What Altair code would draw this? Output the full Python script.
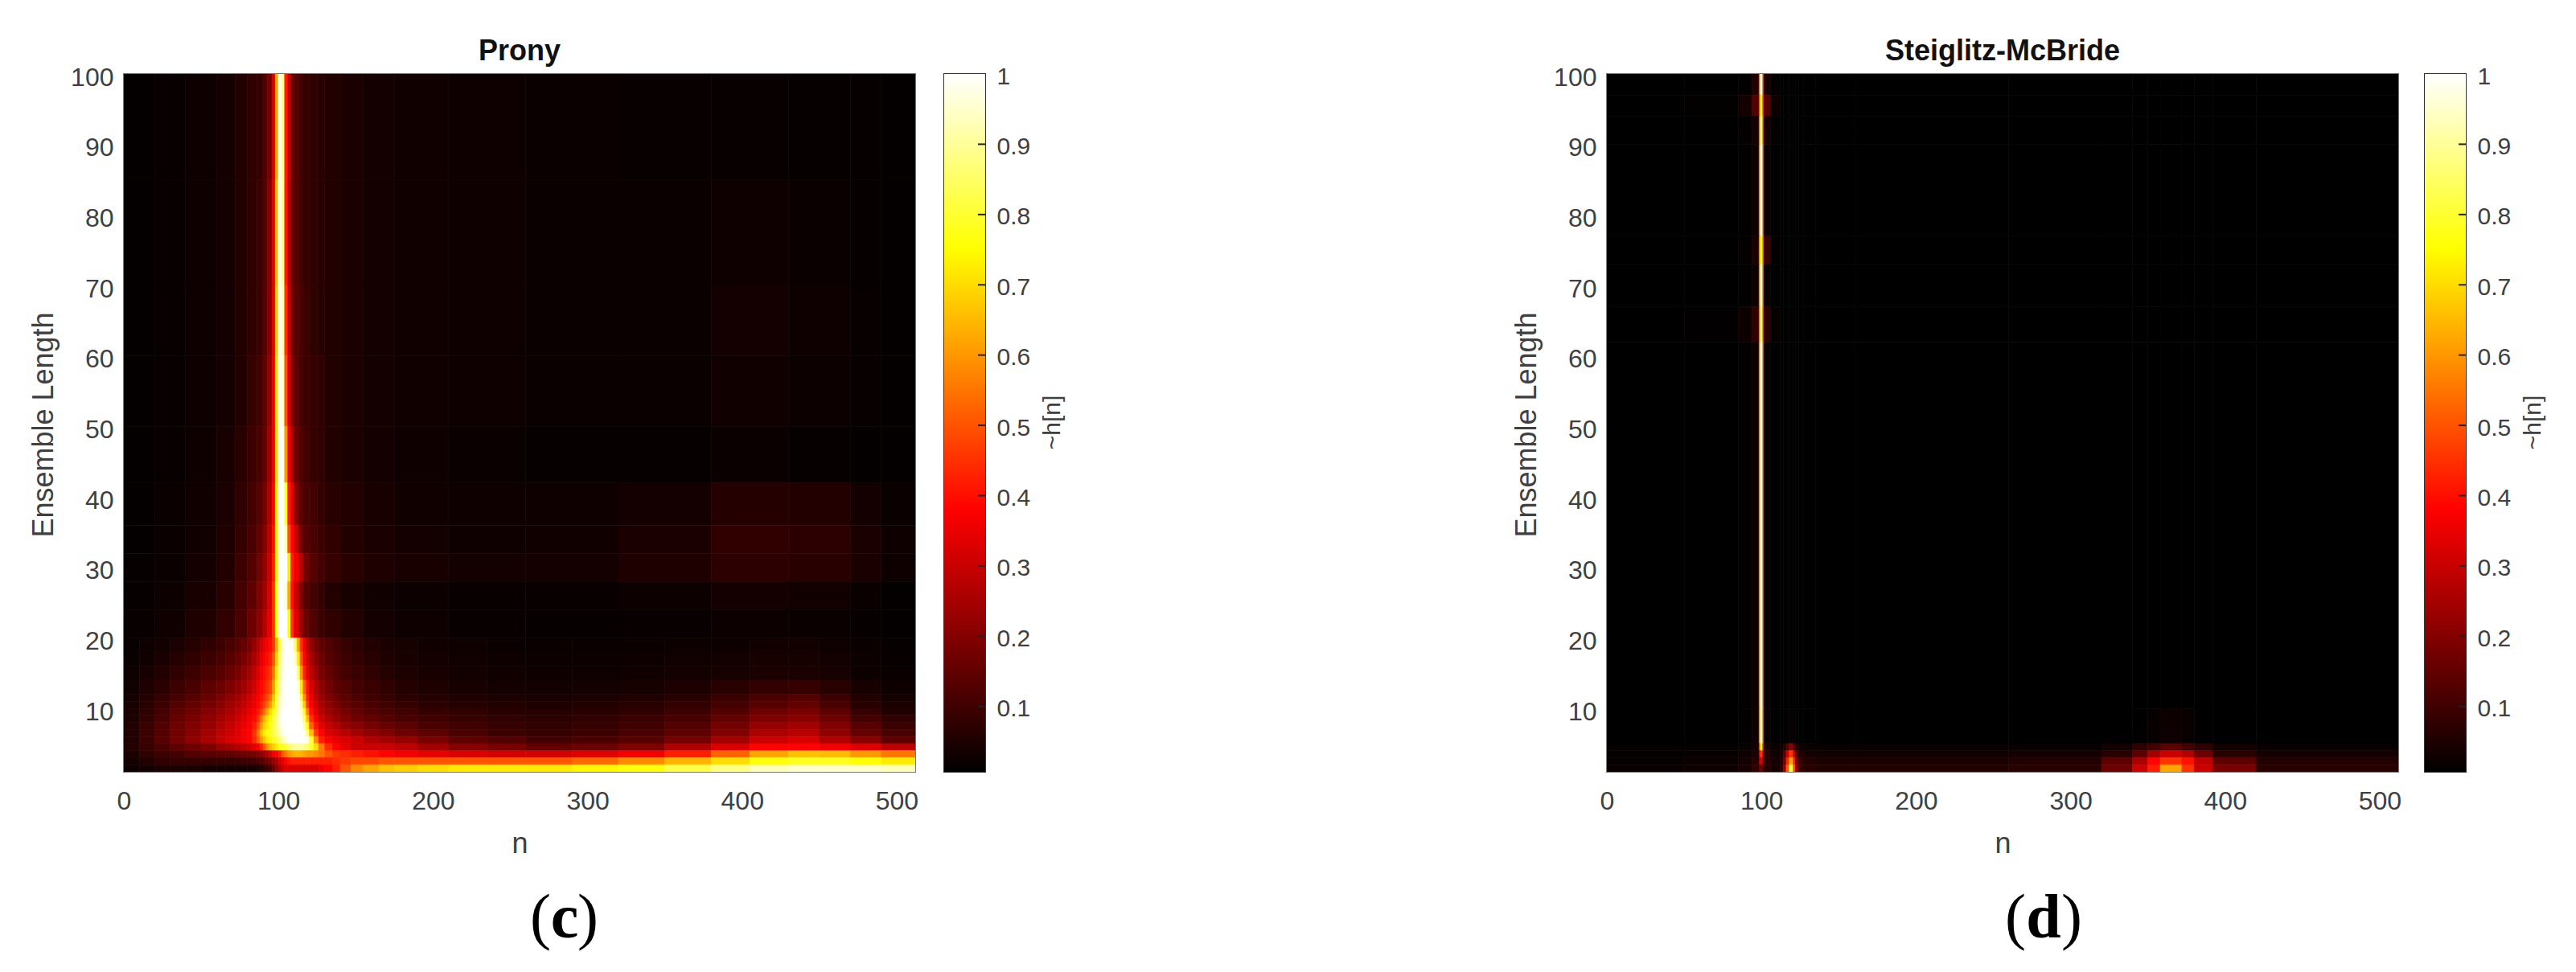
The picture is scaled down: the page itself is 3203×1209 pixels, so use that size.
import altair as alt
import pandas as pd

# cell edges: the upper part of Prony is read on a coarser grid than the bright lower part
prony_n = [0, 20, 40, 60, 72, 80, 86, 90, 93, 96, 98, 100, 102, 104, 106, 108, 110, 113, 116, 120,
           125, 130, 140, 155, 175, 210, 260, 320, 380, 430, 470, 490, 512]
prony_len = [100, 85, 70, 60, 50, 42, 36, 32, 28, 24, 20]
prony_vals = [
    [.008, .012, .02, .03, .05, .07, .08, .12, .18, .32, .62, .98, .9, .42, .3, .16, .13, .1, .08, .07, .06, .05, .04, .03, .025, .02, .015, .012, .012, .01, .01, .008],
    [.008, .012, .02, .03, .05, .07, .09, .12, .2, .34, .66, .98, .9, .42, .28, .16, .13, .1, .08, .07, .06, .05, .04, .03, .025, .02, .016, .014, .02, .014, .01, .008],
    [.008, .012, .02, .03, .05, .07, .09, .13, .2, .34, .68, 1, .92, .45, .3, .17, .13, .11, .09, .07, .06, .05, .04, .03, .025, .02, .016, .016, .03, .02, .012, .008],
    [.008, .012, .02, .03, .05, .08, .1, .14, .22, .36, .7, 1, .95, .5, .32, .2, .14, .11, .09, .08, .07, .05, .04, .03, .025, .02, .016, .016, .025, .018, .012, .008],
    [.008, .012, .02, .035, .06, .09, .11, .15, .24, .36, .7, 1, .98, .6, .36, .25, .16, .12, .1, .08, .07, .05, .04, .03, .02, .014, .01, .01, .014, .01, .008, .006],
    [.008, .014, .025, .04, .07, .1, .13, .18, .26, .38, .72, 1, 1, .8, .42, .34, .2, .14, .11, .1, .08, .06, .05, .035, .025, .02, .02, .03, .055, .05, .03, .015],
    [.008, .014, .025, .045, .08, .11, .15, .2, .28, .4, .72, .98, 1, .92, .5, .38, .3, .18, .13, .11, .09, .07, .05, .04, .03, .022, .025, .04, .07, .065, .04, .02],
    [.01, .016, .03, .05, .09, .12, .17, .22, .3, .42, .72, .98, 1, 1, .72, .42, .36, .28, .17, .13, .1, .08, .06, .045, .035, .03, .03, .045, .065, .06, .04, .02],
    [.01, .018, .035, .06, .1, .14, .19, .24, .32, .45, .75, 1, 1, .95, .62, .4, .3, .2, .13, .1, .08, .05, .035, .025, .018, .012, .012, .018, .03, .025, .015, .008],
    [.012, .025, .045, .075, .11, .16, .21, .27, .34, .45, .75, 1, 1, 1, .75, .45, .34, .24, .16, .12, .09, .07, .05, .03, .02, .012, .01, .012, .018, .015, .01, .006],
]

prony_low_n = [0, 10, 20, 30, 40, 50, 60, 66, 72, 76, 80, 83, 86, 88, 90, 92, 94, 96, 98, 100, 102, 104, 106, 108, 110, 112,
               114, 116, 118, 120, 123, 126, 130, 135, 140, 147, 155, 165, 175, 190, 210, 235, 260, 290, 320, 350, 380, 405,
               430, 450, 470, 490, 512]
prony_low_len = [20, 18, 16, 14, 12, 11, 10, 9, 8, 7, 6, 5, 4, 3, 2, 1]
prony_low_vals = [
    [.012, .02, .03, .04, .055, .07, .09, .11, .13, .15, .18, .22, .26, .3, .34, .37, .39, .45, .62, .82,
     .95, 1, 1, 1, .85, .62, .44, .36, .28, .22, .17, .14, .12, .1, .08, .065, .05, .04, .032, .025,
     .02, .016, .014, .014, .016, .018, .022, .026, .026, .022, .016, .01],
    [.015, .025, .04, .055, .07, .09, .11, .13, .155, .18, .21, .25, .29, .33, .37, .39, .42, .5, .68, .85,
     .96, 1, 1, 1, .95, .72, .5, .38, .31, .25, .2, .16, .13, .11, .09, .075, .06, .045, .036, .03,
     .024, .02, .018, .018, .02, .024, .028, .032, .032, .026, .018, .012],
    [.02, .035, .05, .07, .09, .11, .13, .155, .18, .21, .24, .28, .32, .36, .39, .42, .45, .55, .72, .88,
     .97, 1, 1, 1, 1, .85, .6, .42, .34, .28, .23, .18, .15, .12, .1, .085, .07, .055, .042, .035,
     .028, .024, .022, .022, .024, .028, .034, .04, .04, .032, .022, .014],
    [.025, .045, .065, .09, .11, .135, .16, .185, .21, .24, .27, .31, .35, .38, .41, .44, .48, .6, .76, .9,
     .98, 1, 1, 1, 1, .95, .72, .52, .4, .32, .26, .21, .17, .14, .12, .1, .085, .07, .055, .045,
     .036, .03, .028, .03, .034, .042, .06, .075, .08, .06, .035, .02],
    [.03, .055, .08, .105, .13, .155, .185, .215, .24, .27, .3, .34, .37, .4, .44, .48, .54, .66, .8, .92,
     .98, 1, 1, 1, 1, 1, .82, .6, .42, .35, .28, .23, .19, .16, .135, .115, .095, .08, .065, .055,
     .045, .04, .036, .04, .048, .06, .085, .11, .125, .09, .05, .03],
    [.035, .06, .09, .12, .15, .175, .205, .235, .26, .29, .32, .35, .38, .42, .47, .52, .6, .7, .82, .93,
     .98, 1, 1, 1, 1, 1, .9, .68, .46, .37, .31, .25, .21, .18, .15, .13, .11, .095, .08, .065,
     .055, .05, .046, .05, .06, .075, .1, .13, .145, .11, .06, .04],
    [.04, .07, .1, .14, .165, .195, .225, .25, .28, .31, .34, .37, .41, .46, .54, .62, .7, .76, .85, .95,
     1, 1, 1, 1, 1, 1, .95, .78, .56, .4, .33, .27, .23, .2, .17, .145, .125, .11, .095, .08,
     .07, .06, .055, .06, .07, .09, .125, .16, .18, .14, .08, .05],
    [.04, .075, .11, .15, .18, .21, .24, .27, .3, .33, .36, .39, .45, .54, .64, .7, .74, .8, .88, .96,
     1, 1, 1, 1, 1, 1, .98, .85, .66, .45, .37, .3, .26, .22, .19, .165, .145, .125, .11, .095,
     .08, .07, .062, .07, .085, .105, .145, .185, .2, .16, .1, .07],
    [.05, .085, .12, .16, .19, .22, .26, .29, .32, .35, .37, .42, .5, .6, .68, .72, .76, .82, .88, .95,
     .99, 1, 1, 1, 1, 1, 1, .92, .76, .52, .41, .34, .29, .26, .22, .2, .175, .155, .135, .11,
     .095, .08, .07, .08, .095, .125, .17, .22, .24, .19, .13, .09],
    [.05, .09, .125, .165, .2, .24, .28, .3, .33, .36, .38, .45, .55, .66, .72, .76, .78, .82, .86, .92,
     .97, 1, 1, 1, 1, 1, 1, .98, .86, .66, .46, .38, .32, .3, .27, .24, .21, .19, .16, .135,
     .11, .09, .08, .09, .11, .14, .19, .25, .27, .21, .15, .11],
    [.05, .09, .13, .17, .21, .25, .29, .32, .34, .36, .38, .44, .52, .6, .66, .72, .74, .78, .82, .86,
     .92, .97, 1, 1, 1, 1, 1, 1, .98, .82, .58, .42, .37, .34, .32, .3, .26, .24, .22, .18,
     .14, .12, .1, .11, .13, .17, .24, .3, .32, .26, .2, .14],
    [.05, .08, .11, .14, .16, .18, .22, .24, .26, .28, .3, .33, .36, .42, .5, .58, .64, .68, .72, .76,
     .78, .8, .85, .88, .9, .9, .9, .88, .86, .8, .7, .56, .44, .38, .34, .3, .3, .3, .28, .24,
     .2, .18, .15, .16, .19, .26, .32, .38, .38, .36, .33, .28],
    [.04, .07, .09, .1, .12, .13, .14, .14, .15, .16, .16, .17, .19, .2, .23, .26, .3, .36, .38, .42,
     .5, .55, .6, .62, .64, .64, .64, .62, .6, .6, .58, .55, .5, .46, .44, .42, .4, .38, .36, .34,
     .32, .31, .31, .33, .36, .42, .52, .62, .66, .65, .6, .55],
    [.03, .05, .07, .08, .08, .08, .08, .08, .085, .09, .09, .1, .11, .12, .14, .16, .18, .22, .25, .3,
     .34, .38, .4, .42, .42, .42, .42, .42, .42, .42, .42, .42, .42, .44, .46, .48, .48, .5, .5, .5,
     .5, .5, .5, .53, .58, .64, .7, .76, .78, .78, .75, .72],
    [.02, .03, .04, .04, .04, .03, .03, .03, .03, .03, .03, .03, .04, .05, .07, .08, .1, .15, .2, .25,
     .3, .32, .32, .32, .32, .32, .32, .32, .32, .32, .32, .35, .38, .42, .5, .58, .62, .66, .68, .7,
     .72, .72, .72, .74, .76, .82, .88, .93, .95, .95, .95, .93],
]

# the thin line is white with orange sides, which blurs to the peach of the picture
sm_n = [0, 50, 85, 94, 98.5, 99.3, 100.7, 101.5, 106, 112, 114, 116, 118, 120.5, 122, 124, 127, 135, 160, 260,
        320, 340, 350, 358, 372, 380, 392, 420, 512]
sm_len = [100, 97, 94, 90, 77, 73, 67, 62, 10, 5, 4, 3, 2, 1]
sm_vals = [
    [0, 0, .005, .05, .55, .98, .55, .03, .005, 0, 0, 0, 0, 0, 0, 0, 0, 0, 0, 0, 0, 0, 0, 0, 0, 0, 0, 0],
    [0, .005, .03, .12, .5, .78, .5, .12, .02, .005, 0, 0, 0, 0, 0, 0, 0, 0, 0, 0, 0, 0, 0, 0, 0, 0, 0, 0],
    [0, 0, .008, .03, .55, .9, .55, .03, .005, 0, 0, 0, 0, 0, 0, 0, 0, 0, 0, 0, 0, 0, 0, 0, 0, 0, 0, 0],
    [0, 0, .004, .02, .58, .98, .58, .01, 0, 0, 0, 0, 0, 0, 0, 0, 0, 0, 0, 0, 0, 0, 0, 0, 0, 0, 0, 0],
    [0, 0, .008, .04, .58, .78, .58, .08, .008, 0, 0, 0, 0, 0, 0, 0, 0, 0, 0, 0, 0, 0, 0, 0, 0, 0, 0, 0],
    [0, 0, .004, .02, .58, .95, .58, .01, 0, 0, 0, 0, 0, 0, 0, 0, 0, 0, 0, 0, 0, 0, 0, 0, 0, 0, 0, 0],
    [0, .003, .02, .07, .55, .88, .55, .06, .01, 0, 0, 0, 0, 0, 0, 0, 0, 0, 0, 0, 0, 0, 0, 0, 0, 0, 0, 0],
    [0, 0, .003, .02, .58, .98, .58, .008, 0, 0, 0, 0, 0, 0, 0, 0, 0, 0, 0, 0, 0, 0, 0, 0, 0, 0, 0, 0],
    [0, 0, .003, .02, .58, .95, .58, .008, 0, 0, 0, .003, .012, .003, 0, 0, 0, 0, 0, 0, 0, 0, .012, .02, .012, 0, 0, 0],
    [.006, .008, .012, .03, .45, .75, .45, .03, .015, .02, .05, .12, .2, .12, .05, .025, .015, .012, .01, .012, .03, .07, .1, .14, .1, .07, .03, .012],
    [.008, .012, .02, .04, .3, .45, .3, .05, .02, .04, .12, .3, .45, .3, .13, .05, .03, .025, .025, .03, .06, .14, .24, .3, .26, .16, .06, .03],
    [.01, .016, .03, .06, .22, .32, .22, .06, .03, .05, .17, .42, .62, .42, .18, .08, .05, .04, .04, .05, .14, .25, .38, .45, .4, .28, .14, .05],
    [.012, .02, .035, .07, .12, .16, .12, .05, .03, .06, .22, .5, .82, .5, .22, .09, .06, .05, .05, .06, .16, .3, .42, .62, .45, .3, .18, .06],
]

cbar_ticks = [.1, .2, .3, .4, .5, .6, .7, .8, .9, 1]
n_ticks = [0, 100, 200, 300, 400, 500]
len_ticks = [10, 20, 30, 40, 50, 60, 70, 80, 90, 100]

FONT = 'Liberation Sans'
GREY = '#404040'
hot = alt.Scale(domain=[0, .375, .75, 1], range=['#000000', '#ff0000', '#ffff00', '#ffffff'],
                interpolate='rgb', clamp=True)


def cells(n_edges, len_edges, vals):
    rows = []
    for i, row in enumerate(vals):
        for j, v in enumerate(row):
            rows.append({'n0': n_edges[j], 'n1': n_edges[j + 1],
                         'l0': len_edges[i + 1], 'l1': len_edges[i], 'v': v})
    return pd.DataFrame(rows)


def panel(title, table, caption, caption_x):
    heat = alt.Chart(table).mark_rect(strokeWidth=0.7, clip=True).encode(
        x=alt.X('n0:Q', scale=alt.Scale(domain=[0, 512], nice=False),
                axis=alt.Axis(values=n_ticks, title='n', grid=False, domain=False, ticks=False,
                              labelPadding=21, labelFontSize=32, labelColor=GREY, labelFont=FONT,
                              titleFont=FONT, titleFontSize=36, titleFontWeight='normal', titleColor=GREY,
                              titleBaseline='alphabetic', titleY=100, labelFlush=False)),
        x2='n1:Q',
        y=alt.Y('l0:Q', scale=alt.Scale(domain=[1, 100], nice=False, zero=False),
                axis=alt.Axis(values=len_ticks, title='Ensemble Length', grid=False, domain=False, ticks=False,
                              labelPadding=13, labelFontSize=32, labelColor=GREY, labelFont=FONT, labelOffset=4,
                              titleFont=FONT, titleFontSize=36, titleFontWeight='normal', titleColor=GREY,
                              titleBaseline='alphabetic', titleX=-89, titleY=436, labelFlush=False)),
        y2='l1:Q',
        color=alt.Color('v:Q', scale=hot, legend=None),
        stroke=alt.Stroke('v:Q', scale=hot, legend=None),
    )
    # the caption has regular brackets and a bold letter
    parts = []
    for text, x, weight in zip(['(', caption, ')'], caption_x, ['normal', 'bold', 'normal']):
        parts.append(alt.Chart(pd.DataFrame({'t': [text]})).mark_text(
            font='Liberation Serif', fontSize=78, fontWeight=weight, color='#000000',
            align='center', baseline='alphabetic').encode(
            text='t:N', x=alt.value(x), y=alt.value(1074)))
    return alt.layer(heat, *parts).properties(
        width=984, height=868,
        view=alt.ViewBackground(stroke='#777777', strokeWidth=2),
        title=alt.TitleParams(title, font=FONT, fontSize=36, fontWeight='bold', color='#111111',
                              anchor='middle', offset=-3),
    )


def colorbar():
    bar = alt.Chart(pd.DataFrame({'lo': [.007], 'hi': [1]})).mark_rect(
        color=alt.Gradient(gradient='linear', x1=0, x2=0, y1=0, y2=1, stops=[
            alt.GradientStop(color='#ffffff', offset=0),
            alt.GradientStop(color='#ffff00', offset=.25),
            alt.GradientStop(color='#ff0000', offset=.625),
            alt.GradientStop(color='#000000', offset=1),
        ])).encode(
        y=alt.Y('lo:Q', scale=alt.Scale(domain=[.007, 1], nice=False, zero=False),
                axis=alt.Axis(orient='right', values=cbar_ticks, format='~g', title='~h[n]', grid=False,
                              domain=False, ticks=False, labelPadding=14, labelFontSize=30, labelColor=GREY,
                              labelFont=FONT, labelOffset=3, titleFont=FONT, titleFontSize=30,
                              titleFontWeight='normal', titleColor=GREY, titleAngle=270,
                              titleBaseline='alphabetic', titleX=92, titleY=433, labelFlush=False)),
        y2='hi:Q',
    )
    ticks = alt.Chart(pd.DataFrame({'v': cbar_ticks[:-1]})).mark_rule(color='#222222', strokeWidth=2).encode(
        y=alt.Y('v:Q'), x=alt.value(42), x2=alt.value(51))
    return alt.layer(bar, ticks).properties(
        width=51, height=868,
        view=alt.ViewBackground(stroke='#333333', strokeWidth=2),
    )


prony_table = pd.concat([cells(prony_n, prony_len, prony_vals), cells(prony_low_n, prony_low_len, prony_low_vals)])
left = alt.hconcat(panel('Prony', prony_table, 'c', [518, 548, 577]), colorbar(), spacing=30)
right = alt.hconcat(panel('Steiglitz-McBride', cells(sm_n, sm_len, sm_vals), 'd', [508, 543, 578]), colorbar(), spacing=27)

chart = alt.hconcat(left, right, spacing=555, padding={'left': 27, 'top': 37, 'right': 5, 'bottom': 5}).configure(
    background='white')

chart.save("out.html", embed_options={"renderer": "svg", "actions": False})
